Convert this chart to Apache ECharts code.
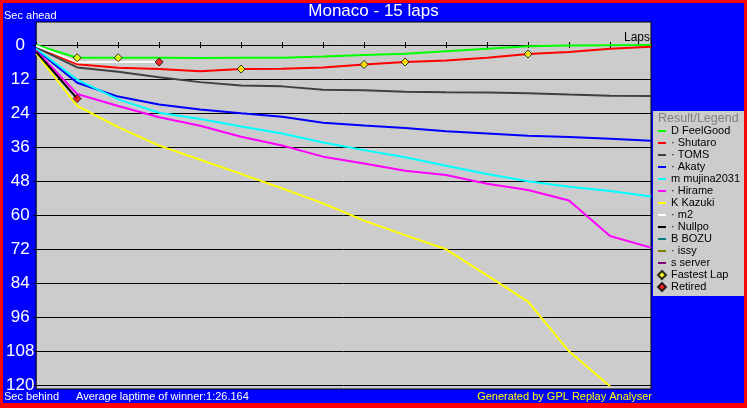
<!DOCTYPE html>
<html><head><meta charset="utf-8">
<script src="https://cdn.jsdelivr.net/npm/echarts@6/dist/echarts.min.js"></script>
<style>
html,body{margin:0;padding:0;background:#ff0000;overflow:hidden;}
#wrap{position:absolute;left:0;top:0;width:747px;height:408px;background:#ff0000;}
#chart{position:absolute;left:3px;top:3px;width:741px;height:400px;background:#0000ff;}
</style></head><body>
<div id="wrap"><div id="chart"></div></div>
<script>
// ---- data ----
const laps = [0,1,2,3,4,5,6,7,8,9,10,11,12,13,14,15];
const feelGood = [0,4.5,4.5,4.5,4.6,4.5,4.5,4.1,3.5,3.1,2.2,1.3,0.4,0.2,0.1,0];
const shutaro  = [0.5,6.8,8.0,8.5,9.3,8.5,8.4,7.9,6.9,6.0,5.5,4.5,3.2,2.5,1.3,0.6];
const toms     = [0.8,7.9,9.4,11.4,13.1,14.3,14.6,15.8,16.0,16.5,16.7,16.8,17.0,17.5,17.9,18.0];
const akaty    = [1.6,13.3,18.2,21.0,22.8,24.1,25.3,27.4,28.4,29.3,30.4,31.2,32.0,32.5,33.1,33.8];
const mujina   = [1.3,12.2,19.2,23.9,26.1,28.8,31.2,34.4,37.1,39.6,42.6,45.5,48.1,50.0,51.5,53.5];
const hirame   = [2.0,17.3,21.5,25.5,28.5,32.4,35.5,39.4,41.8,44.4,45.9,49.0,51.2,54.9,67.4,71.5];
const kazuki   = [3.0,21.5,29.0,35.5,40.5,45.5,50.6,55.9,62.0,67.1,72.1,81.3,90.6,108.1,120.4];
const m2       = [0.3,6.1,6.0,6.0];
const nullpo   = [2.4,18.9];
const bozu     = [1.0];
const issy     = [1.8];
const server   = [2.7];

const driverNames = ['D FeelGood','\u00b7 Shutaro','\u00b7 TOMS','\u00b7 Akaty','m mujina2031','\u00b7 Hirame','K Kazuki','\u00b7 m2','\u00b7 Nullpo','B BOZU','\u00b7 issy','s server'];
const driverValues = [feelGood,shutaro,toms,akaty,mujina,hirame,kazuki,m2,nullpo,bozu,issy,server];
// [driver index, lap]
const fastestLaps = [[0,1],[0,2],[1,5],[1,8],[1,9],[1,12]];
const retirements = [[7,3],[8,1]];
const yTicks = [0,12,24,36,48,60,72,84,96,108,120];

const titleText = 'Monaco - 15 laps';
const avgText = 'Average laptime of winner:1:26.164';

// ---- styles ----
const driverColors = ['#00ff00','#ff0000','#404040','#0000ff','#00ffff','#ff00ff','#ffff00','#ffffff','#000000','#008080','#808000','#800080'];
const FONT = '"Liberation Sans", Arial, sans-serif';
const LINE_ICON = 'path://M0,0L0.01,0M0,3L8,3L8,5L0,5ZM7.99,8L8,8';

const chart = echarts.init(document.getElementById('chart'), null, {renderer:'canvas'});

const series = driverNames.map((name, i) => ({
  name, type:'line', xAxisIndex:0, yAxisIndex:0,
  data: driverValues[i].map((v, k) => [laps[k], v]),
  symbol:'none', showSymbol:false,
  lineStyle:{color:driverColors[i], width:2},
  itemStyle:{color:driverColors[i]},
  z: 2 + i*0.01
}));
series.push({
  name:'Fastest Lap', type:'scatter',
  data: fastestLaps.map(([d,l]) => [laps[l], driverValues[d][l]]),
  symbol:'diamond', symbolSize:8,
  itemStyle:{color:'#ffff00', borderColor:'#000', borderWidth:1},
  z: 5
});
series.push({
  name:'Retired', type:'scatter',
  data: retirements.map(([d,l]) => [laps[l], driverValues[d][l]]),
  symbol:'diamond', symbolSize:8,
  itemStyle:{color:'#ff0000', borderColor:'#000', borderWidth:1},
  z: 5
});

const xBase = (inside) => ({
  type:'value', min:0, max:15, interval:1, position:'bottom',
  axisLine:{show:true, onZero:true, onZeroAxisIndex:0, lineStyle:{color:'#000', width:1}},
  axisTick:{show:true, inside:inside, length:3, lineStyle:{color:'#000'}},
  axisLabel:{show:false}, splitLine:{show:false}
});

chart.setOption({
  animation:false,
  backgroundColor:'#0000ff',
  title:{text:titleText, left:'center', top:0, padding:0,
    textStyle:{color:'#fff', fontSize:17, fontWeight:'normal', fontFamily:FONT}},
  grid:{left:33, top:19, width:615, height:367, show:true,
    backgroundColor:'#cccccc', borderColor:'#000', borderWidth:1, containLabel:false},
  xAxis:[xBase(false), xBase(true)],
  yAxis:{type:'value', inverse:true, min:-8.12, max:121.41,
    axisLine:{show:false},
    axisTick:{show:true, length:3, customValues:yTicks, lineStyle:{color:'#000'}},
    axisLabel:{customValues:yTicks, color:'#fff', fontSize:17, fontFamily:FONT, margin:16, align:'center'},
    splitLine:{show:true, lineStyle:{color:'#000', width:1}}
  },
  legend:{orient:'vertical', left:654, top:122, padding:0, itemGap:0,
    itemWidth:8, itemHeight:8, selectedMode:false,
    data:[...driverNames.map(n => ({name:n, icon:LINE_ICON})),'Fastest Lap','Retired'],
    textStyle:{color:'#000', fontSize:11, fontFamily:FONT, lineHeight:12}},
  graphic:[
    {type:'rect', shape:{x:650, y:108, width:91, height:185}, style:{fill:'#cccccc'}, z:0, silent:true},
    {type:'text', x:655, y:115.5, style:{text:'Result/Legend', fill:'#808080', font:'12.5px '+FONT, textVerticalAlign:'middle'}, z:10},
    {type:'text', x:1, y:12.5, style:{text:'Sec ahead', fill:'#fff', font:'11px '+FONT, textVerticalAlign:'middle'}, z:10},
    {type:'text', x:647, y:34.5, style:{text:'Laps', fill:'#000', font:'12px '+FONT, textAlign:'right', textVerticalAlign:'middle'}, z:10},
    {type:'rect', shape:{x:0, y:387, width:32, height:13}, style:{fill:'#0000ff'}, z:50, silent:true},
    {type:'text', x:1, y:394, style:{text:'Sec behind', fill:'#fff', font:'11px '+FONT, textVerticalAlign:'middle'}, z:60},
    {type:'text', x:73, y:394, style:{text:avgText, fill:'#fff', font:'11px '+FONT, textVerticalAlign:'middle'}, z:60},
    {type:'text', x:649, y:394, style:{text:'Generated by GPL Replay Analyser', fill:'#ffff00', font:'11px '+FONT, textAlign:'right', textVerticalAlign:'middle'}, z:60}
  ],
  series
});
</script>
</body></html>
